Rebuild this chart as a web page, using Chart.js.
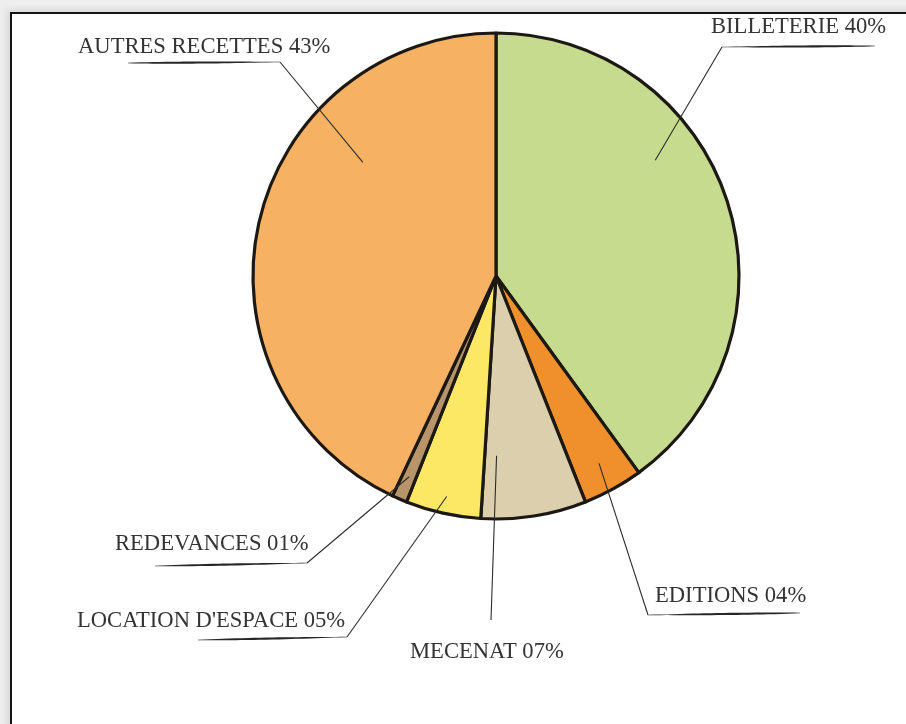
<!DOCTYPE html>
<html>
<head>
<meta charset="utf-8">
<title>Recettes</title>
<script src="https://cdn.jsdelivr.net/npm/chart.js@4.4.1/dist/chart.umd.min.js"></script>
<style>
    html, body { margin: 0; padding: 0; }
    body { width: 906px; height: 724px; overflow: hidden; background: #eeeeee; position: relative; }
    #frame {
        position: absolute; left: 10px; top: 12px; width: 940px; height: 780px;
        background: #fff;
        border-top: 2px solid #141414; border-left: 2px solid #141414;
        box-shadow: -3px -2px 7px rgba(0, 0, 0, 0.10);
    }
    #recettes { position: absolute; left: 0; top: 0; }
</style>
</head>
<body>
<div id="frame"></div>
<canvas id="recettes" width="906" height="724"></canvas>
<script>
'use strict';

var categories = ["BILLETERIE", "EDITIONS", "MECENAT", "LOCATION D'ESPACE", "REDEVANCES", "AUTRES RECETTES"];
var parts = [40, 4, 7, 5, 1, 43];
var colors = ["#c7db8f", "#f0902c", "#dccfad", "#fde866", "#b7946a", "#f6b262"];

// where each caption sits and how its leader line runs
// at / r : anchor inside the slice (fraction of its sweep, fraction of radius)
var callouts = [
    { text: [711, 33],  at: 0.375, r: 0.81, elbow: [722, 47],  line: [875, 46] },
    { text: [655, 602], at: 0.5,   r: 0.88, elbow: [648, 615], line: [800, 613] },
    { text: [410, 658], at: 0.85,  r: 0.74, elbow: [491, 620] },
    { text: [77, 627],  at: 0.5,   r: 0.93, elbow: [347, 637], line: [198, 640] },
    { text: [115, 550], at: 0.5,   r: 0.9,  elbow: [307, 563], line: [155, 566] },
    { text: [78, 53],   at: 0.68,  r: 0.72, elbow: [280, 62],  line: [128, 63] }
];

function pct(v) {
    return (v < 10 ? '0' : '') + v + '%';
}

// ink stroke, thicker in the middle and fading at both ends
function brush(ctx, x0, y0, x1, y1) {
    var n = 24, pts = [], i, t, w;
    var dx = x1 - x0, dy = y1 - y0, len = Math.sqrt(dx * dx + dy * dy);
    var nx = -dy / len, ny = dx / len;
    for (i = 0; i <= n; i++) {
        t = i / n;
        w = 0.3 + 0.75 * Math.pow(Math.sin(Math.PI * Math.min(1, t * 1.15)), 0.7);
        pts.push([x0 + dx * t, y0 + dy * t, w]);
    }
    ctx.beginPath();
    for (i = 0; i <= n; i++) {
        ctx.lineTo(pts[i][0] + nx * pts[i][2], pts[i][1] + ny * pts[i][2]);
    }
    for (i = n; i >= 0; i--) {
        ctx.lineTo(pts[i][0] - nx * pts[i][2], pts[i][1] - ny * pts[i][2]);
    }
    ctx.closePath();
    ctx.fill();
}

var calloutPlugin = {
    id: 'callouts',
    afterDraw: function(chart) {
        var ctx = chart.ctx;
        var arcs = chart.getDatasetMeta(0).data;
        ctx.save();
        ctx.font = "22.6px 'Liberation Serif', serif";
        ctx.textBaseline = 'alphabetic';
        ctx.textAlign = 'left';
        arcs.forEach(function(arc, i) {
            var c = callouts[i];
            var p = arc.getProps(['x', 'y', 'startAngle', 'endAngle', 'outerRadius'], true);
            var a = p.startAngle + (p.endAngle - p.startAngle) * c.at;
            var ax = p.x + Math.cos(a) * p.outerRadius * c.r;
            var ay = p.y + Math.sin(a) * p.outerRadius * c.r;

            ctx.strokeStyle = '#2b2b2b';
            ctx.lineWidth = 1.1;
            ctx.beginPath();
            ctx.moveTo(ax, ay);
            ctx.lineTo(c.elbow[0], c.elbow[1]);
            ctx.stroke();

            ctx.fillStyle = '#262626';
            if (c.line) {
                brush(ctx, c.line[0], c.line[1], c.elbow[0], c.elbow[1]);
            }

            ctx.fillStyle = '#333333';
            ctx.fillText(categories[i] + ' ' + pct(parts[i]), c.text[0], c.text[1]);
        });
        ctx.restore();
    }
};

var ctx = document.getElementById('recettes').getContext('2d');
var chart = new Chart(ctx, {
    type: 'pie',
    data: {
        labels: categories,
        datasets: [{
            data: parts,
            backgroundColor: colors,
            borderColor: '#1c1814',
            borderWidth: 3.2,
            borderJoinStyle: 'round'
        }]
    },
    options: {
        responsive: false,
        animation: false,
        radius: 243,
        layout: { padding: { left: 86, right: 0, top: 0, bottom: 172 } },
        plugins: {
            legend: { display: false },
            tooltip: { enabled: false }
        }
    },
    plugins: [calloutPlugin]
});
</script>
</body>
</html>
